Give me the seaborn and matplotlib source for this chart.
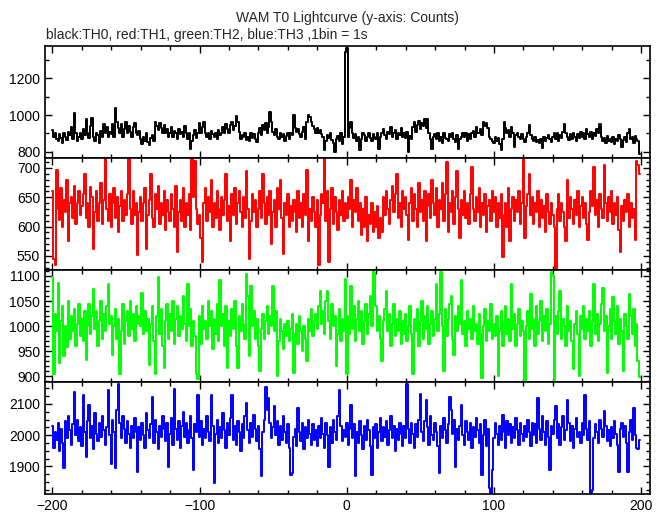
import numpy as np
import pandas as pd
import seaborn as sns
import matplotlib
matplotlib.use('Agg')
import matplotlib.pyplot as plt
from matplotlib.ticker import MultipleLocator

# time bins (1 bin = 1 s)
time = list(range(-200, 200))

th0 = [920, 880, 905, 870, 860, 895, 875, 850, 900, 880, 865, 910, 890, 935, 870, 1010, 900, 860, 880, 905,
       870, 925, 890, 980, 900, 875, 940, 985, 880, 860, 905, 890, 850, 915, 880, 950, 900, 935, 880, 910,
       895, 950, 880, 1040, 960, 930, 900, 950, 880, 925, 960, 900, 940, 910, 880, 935, 955, 905, 890, 915,
       870, 845, 880, 860, 900, 855, 840, 875, 890, 860, 960, 940, 920, 955, 930, 905, 945, 900, 925, 880,
       900, 935, 880, 915, 905, 870, 925, 895, 910, 880, 940, 900, 870, 905, 815, 860, 890, 920, 875, 900,
       955, 900, 935, 960, 905, 880, 900, 870, 915, 895, 880, 905, 870, 920, 890, 900, 935, 905, 950, 925,
       900, 945, 960, 920, 940, 995, 960, 910, 870, 890, 880, 905, 865, 880, 860, 900, 875, 895, 870, 855,
       905, 930, 890, 945, 920, 955, 900, 935, 1015, 960, 910, 890, 925, 880, 870, 905, 880, 895, 860, 885,
       900, 870, 905, 890, 1000, 930, 910, 925, 895, 880, 910, 935, 870, 960, 1000, 990, 960, 940, 925, 905,
       930, 900, 920, 895, 880, 810, 860, 890, 875, 900, 865, 850, 800, 870, 885, 860, 905, 845, 880, 1340,
       1365, 880, 930, 965, 900, 875, 895, 860, 880, 810, 870, 905, 890, 860, 880, 900, 875, 860, 895, 880,
       870, 900, 815, 880, 905, 925, 890, 870, 910, 895, 935, 880, 900, 920, 870, 905, 890, 930, 880, 900,
       875, 910, 800, 885, 870, 935, 960, 910, 945, 970, 925, 955, 940, 980, 930, 980, 900, 870, 815, 880,
       895, 870, 905, 860, 880, 850, 900, 875, 870, 860, 895, 880, 905, 870, 855, 890, 815, 870, 880, 900,
       880, 905, 860, 895, 870, 900, 915, 880, 935, 905, 900, 925, 890, 960, 940, 955, 930, 880, 870, 860,
       850, 880, 860, 875, 845, 810, 870, 960, 930, 905, 920, 880, 935, 900, 825, 890, 905, 880, 870, 895,
       870, 855, 880, 900, 945, 890, 870, 860, 880, 855, 865, 850, 870, 820, 880, 860, 875, 890, 870, 855,
       880, 900, 870, 905, 860, 890, 875, 910, 950, 900, 880, 865, 895, 870, 905, 880, 860, 895, 875, 910,
       880, 905, 870, 925, 895, 880, 910, 870, 900, 885, 925, 900, 950, 880, 860, 875, 850, 885, 860, 870,
       855, 880, 845, 870, 860, 890, 870, 825, 865, 880, 855, 900, 925, 870, 880, 850, 885, 870, 860, 790]

th1 = [660, 545, 535, 697, 630, 612, 665, 600, 645, 625, 680, 576, 640, 650, 615, 670, 605, 640, 660, 620,
       635, 655, 690, 615, 640, 600, 668, 650, 562, 625, 660, 610, 640, 675, 605, 645, 715, 630, 610, 655,
       600, 640, 665, 615, 650, 590, 635, 660, 610, 645, 620, 655, 715, 630, 605, 660, 620, 640, 552, 625,
       650, 610, 640, 665, 562, 620, 645, 690, 615, 600, 655, 630, 670, 605, 640, 620, 660, 595, 645, 625,
       610, 655, 630, 600, 670, 556, 625, 645, 610, 665, 600, 640, 620, 655, 595, 715, 650, 712, 630, 605,
       620, 580, 539, 640, 665, 610, 650, 625, 680, 600, 640, 615, 660, 630, 595, 650, 620, 645, 690, 610,
       635, 575, 655, 620, 665, 605, 640, 660, 625, 600, 650, 615, 695, 630, 545, 610, 655, 625, 645, 600,
       630, 660, 615, 690, 640, 605, 650, 620, 660, 570, 625, 645, 600, 665, 630, 680, 615, 553, 640, 620,
       655, 600, 635, 610, 645, 625, 590, 660, 615, 640, 600, 655, 620, 697, 575, 630, 610, 650, 625, 600,
       645, 534, 620, 655, 640, 715, 610, 660, 540, 630, 665, 605, 650, 625, 595, 645, 620, 660, 610, 640,
       615, 650, 630, 680, 600, 645, 625, 665, 610, 640, 585, 630, 600, 650, 575, 620, 605, 640, 590, 625,
       600, 635, 580, 615, 590, 650, 620, 660, 630, 605, 645, 670, 625, 655, 690, 615, 640, 600, 660, 630,
       650, 620, 578, 640, 665, 610, 655, 630, 600, 675, 625, 645, 610, 660, 575, 635, 655, 615, 680, 640,
       620, 665, 600, 645, 630, 675, 610, 655, 710, 590, 640, 625, 660, 605, 650, 695, 630, 580, 645, 620,
       660, 615, 640, 605, 655, 702, 630, 610, 650, 625, 665, 600, 640, 620, 655, 590, 635, 645, 610, 660,
       625, 650, 600, 640, 615, 655, 548, 620, 640, 600, 665, 575, 630, 650, 610, 645, 625, 660, 605, 640,
       715, 580, 635, 655, 690, 620, 650, 605, 640, 625, 660, 600, 645, 615, 635, 590, 655, 625, 605, 640,
       620, 600, 526, 630, 655, 610, 640, 625, 600, 575, 680, 615, 650, 630, 605, 645, 620, 660, 600, 635,
       650, 615, 640, 605, 578, 625, 660, 635, 702, 620, 645, 600, 655, 630, 615, 705, 640, 610, 650, 625,
       660, 605, 640, 620, 650, 595, 556, 635, 610, 645, 625, 655, 600, 640, 615, 630, 578, 712, 705, 690]

th2 = [1097, 904, 1025, 990, 1087, 927, 1010, 1040, 940, 1000, 959, 1050, 975, 1020, 990, 1035, 960, 1005, 1045, 980,
       1015, 970, 1030, 933, 1000, 1045, 985, 1020, 1074, 995, 1030, 960, 1010, 1050, 975, 1025, 990, 1040, 1085, 1005,
       1020, 943, 1000, 1035, 975, 1015, 904, 990, 1045, 965, 1010, 1030, 980, 1050, 995, 1025, 970, 1040, 1005, 1020,
       1000, 1067, 985, 1030, 990, 1015, 923, 1005, 1040, 970, 904, 1020, 1098, 985, 1035, 960, 917, 1010, 1045, 975,
       1025, 990, 1050, 965, 1015, 1040, 980, 1020, 995, 1060, 1005, 970, 1085, 1000, 1035, 960, 1010, 980, 904, 894,
       1020, 965, 1040, 995, 1010, 975, 1050, 1000, 1030, 955, 1015, 985, 1045, 970, 1092, 1000, 1025, 960, 1040, 917,
       1010, 980, 1035, 995, 1050, 960, 917, 1020, 990, 1045, 1005, 975, 1103, 1060, 940, 1080, 1000, 1030, 975, 1015,
       960, 910, 995, 1025, 975, 1010, 1040, 985, 1020, 1000, 1080, 990, 1030, 900, 970, 1015, 990, 955, 1005, 980,
       1010, 970, 995, 1025, 906, 985, 1005, 965, 1020, 990, 950, 1000, 975, 930, 1015, 990, 1035, 980, 1010, 1025,
       995, 1040, 1071, 1005, 1030, 985, 1050, 1071, 1010, 975, 1045, 1000, 1020, 920, 985, 1035, 970, 1015, 990, 1094,
       904, 1020, 985, 1080, 995, 1040, 970, 1015, 1050, 990, 1030, 965, 1010, 1045, 985, 1025, 1060, 1000, 1110, 1105,
       1040, 990, 1020, 975, 930, 1010, 1035, 1071, 990, 1025, 960, 1005, 1045, 980, 1015, 990, 1030, 965, 1010, 985,
       1025, 970, 1000, 1040, 985, 904, 1015, 990, 1035, 960, 1010, 1050, 975, 1020, 995, 1040, 965, 1005, 1030, 980,
       1015, 1084, 990, 1025, 1107, 1000, 910, 1035, 980, 1015, 1045, 1061, 975, 943, 1020, 990, 1040, 1005, 1092, 985,
       1010, 960, 1030, 995, 1015, 975, 1040, 990, 1005, 965, 1025, 985, 897, 1000, 1035, 970, 1010, 990, 1045, 975,
       1005, 980, 1020, 901, 990, 1030, 960, 1010, 1040, 985, 1015, 970, 1084, 995, 1025, 960, 1005, 1035, 980, 1010,
       990, 891, 1000, 1030, 975, 1064, 995, 1015, 960, 1040, 985, 1010, 1050, 970, 1020, 990, 1035, 965, 1005, 1107,
       1100, 891, 1020, 985, 1030, 1071, 975, 1015, 1000, 960, 1040, 990, 1010, 970, 914, 1005, 1030, 985, 901, 1020,
       995, 1040, 975, 1015, 990, 1030, 960, 1010, 1085, 985, 1025, 970, 1005, 1045, 1077, 990, 1020, 906, 1000, 1035,
       975, 1058, 1010, 985, 1040, 965, 1015, 990, 910, 1025, 1000, 975, 1064, 1020, 985, 1035, 960, 1005, 930, 898]

th3 = [2030, 1960, 2010, 1985, 2040, 1950, 2020, 1975, 1894, 2045, 1990, 2060, 2015, 1970, 2035, 2139, 2000, 2050, 1980, 2025,
       1965, 2128, 2010, 1930, 2045, 2097, 1990, 2030, 1955, 2070, 2005, 1980, 2040, 1995, 2060, 2015, 1970, 2025, 2144, 2000,
       1909, 2050, 2010, 1894, 2080, 2162, 2040, 1990, 2060, 2020, 1975, 2045, 2005, 1960, 2030, 1990, 2055, 2010, 1883, 2025,
       1985, 2040, 2000, 1960, 2070, 2015, 1990, 2035, 2123, 1975, 2050, 2010, 1955, 2030, 1995, 2060, 2020, 1980, 2040, 1899,
       2005, 2055, 1970, 2149, 2020, 1985, 2045, 1960, 2030, 2075, 1995, 2040, 1975, 2015, 2060, 1990, 1889, 2035, 2010, 2128,
       1995, 2045, 1970, 2020, 1990, 2060, 2010, 1980, 2128, 2030, 1847, 2005, 2050, 1975, 2025, 1990, 2070, 2015, 1960, 2040,
       2000, 2055, 2128, 1985, 2030, 1970, 2045, 2010, 1950, 2035, 1990, 2060, 2102, 2015, 1975, 2040, 1995, 2065, 2020, 1980,
       2030, 1955, 1868, 2010, 2050, 2154, 2080, 2118, 2040, 1990, 2025, 2092, 2000, 2045, 1970, 2030, 1985, 2060, 2010, 1975,
       2035, 1960, 1873, 1880, 1995, 2020, 1965, 2086, 2010, 1980, 2040, 1955, 2025, 1990, 2050, 2005, 1970, 2035, 1985, 2015,
       1965, 2030, 1990, 2055, 2005, 1960, 2040, 2000, 1899, 2025, 1975, 2050, 2010, 1985, 2060, 2144, 2030, 1980, 2015, 1995,
       2040, 1970, 2020, 2097, 1990, 2035, 1868, 2010, 1975, 2045, 2000, 1955, 2030, 1985, 2050, 2015, 1965, 1873, 2025, 1990,
       2035, 1960, 2010, 2055, 1980, 2025, 1995, 2045, 1970, 2015, 2060, 1990, 2030, 1950, 2020, 1985, 2040, 2005, 1965, 2030,
       1990, 2165, 2020, 1975, 2040, 2005, 1960, 2035, 1995, 2050, 2133, 2010, 1980, 2045, 2113, 2025, 1970, 2060, 2000, 1985,
       2040, 2010, 1965, 1878, 2030, 1990, 2055, 2015, 1975, 2035, 2123, 2081, 2005, 2050, 1899, 2020, 1985, 2030, 2097, 2000,
       1970, 2045, 2010, 1985, 2040, 1960, 2025, 1995, 2055, 2015, 1975, 2035, 1873, 2000, 2050, 1965, 2020, 1831, 1816, 1890,
       1990, 2040, 2005, 1970, 2030, 1985, 2066, 2010, 1960, 2045, 2000, 2035, 1975, 2025, 1990, 2055, 2015, 1970, 2040, 2005,
       1980, 2030, 1995, 2050, 2010, 1965, 2040, 2000, 2035, 1975, 2118, 2020, 1985, 2060, 2010, 1970, 2045, 1995, 1889, 2030,
       2005, 2050, 2092, 1990, 2035, 1970, 2025, 2060, 1985, 2015, 2113, 2040, 1980, 2030, 1960, 2020, 2055, 1995, 2010, 1975,
       2040, 2000, 2128, 2020, 1985, 2045, 1816, 1825, 1990, 2035, 2010, 1975, 2050, 2020, 1995, 2076, 2030, 1980, 2015, 1965,
       2025, 1990, 2045, 2005, 1970, 1883, 2020, 2040, 1995, 2030, 1975, 1883, 2010, 2050, 1985, 2086, 2000, 1960, 1955, 1985]

series = [th0, th1, th2, th3]
colors = ['#000000', '#ff0000', '#00ff00', '#0000ff']
ylims = [(767, 1375), (526, 717), (889, 1112), (1812, 2170)]
major = [200, 50, 50, 100]
minor = [100, 10, 10, 25]

sns.set_style('ticks')
plt.rcParams['font.family'] = ['Liberation Sans', 'DejaVu Sans']

fig = plt.figure(figsize=(6.69, 5.15), dpi=100)
left, width = 0.0673, 0.9043
bottoms = [0.6932, 0.4757, 0.2583, 0.0408]
height = 0.2175

for i in range(4):
    ax = fig.add_axes([left, bottoms[i], width, height])
    df = pd.DataFrame({'t': time, 'c': series[i]})
    sns.lineplot(data=df, x='t', y='c', ax=ax, color=colors[i], lw=1.4,
                 drawstyle='steps-mid', estimator=None)
    ax.set_xlim(-205, 206)
    ax.set_ylim(*ylims[i])
    ax.set_xlabel('')
    ax.set_ylabel('')
    ax.xaxis.set_major_locator(MultipleLocator(100))
    ax.xaxis.set_minor_locator(MultipleLocator(20))
    ax.yaxis.set_major_locator(MultipleLocator(major[i]))
    ax.yaxis.set_minor_locator(MultipleLocator(minor[i]))
    ax.tick_params(which='both', direction='in', top=True, right=True,
                   width=1.0, labelsize=10, colors='black')
    ax.tick_params(which='major', length=5)
    ax.tick_params(which='minor', length=3)
    for s in ax.spines.values():
        s.set_linewidth(1.2)
        s.set_color('black')
    if i < 3:
        ax.tick_params(labelbottom=False)

fig.text(0.519, 0.966, 'WAM T0 Lightcurve (y-axis: Counts)', ha='center', va='center', fontsize=10)
fig.text(0.069, 0.932, 'black:TH0, red:TH1, green:TH2, blue:TH3 ,1bin = 1s', ha='left', va='center', fontsize=10)

fig.savefig('out.png', dpi=100)
